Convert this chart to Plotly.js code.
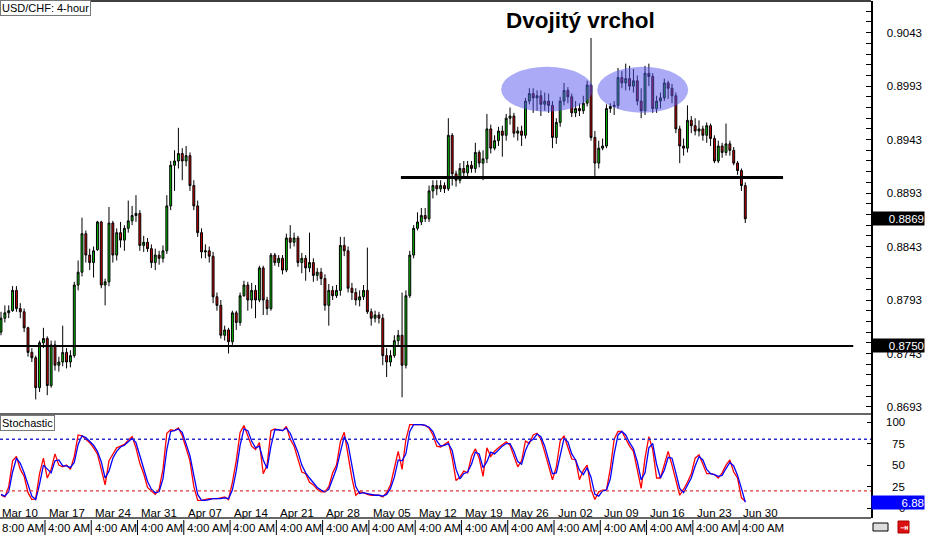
<!DOCTYPE html>
<html><head><meta charset="utf-8">
<script src="https://cdn.plot.ly/plotly-3.0.1.min.js"></script>
<style>html,body{margin:0;padding:0;background:#fff;}#chart{width:925px;height:535px;}</style>
</head><body><div id="chart"></div>
<script>
// USD/CHF 4-hour candles (12 bars per week on the drawing)
const openP = [0.8763,0.8776,0.8781,0.8783,0.8802,0.8785,0.8782,0.8767,0.8744,0.8739,
0.8711,0.8753,0.8757,0.8713,0.8751,0.8732,0.8735,0.8744,0.8735,0.8741,
0.8807,0.8819,0.8855,0.8835,0.8828,0.8840,0.8866,0.8807,0.8810,0.8865,
0.8835,0.8856,0.8849,0.8860,0.8867,0.8872,0.8874,0.8844,0.8847,0.8841,
0.8828,0.8835,0.8832,0.8839,0.8881,0.8919,0.8923,0.8930,0.8923,0.8928,
0.8900,0.8881,0.8856,0.8838,0.8839,0.8834,0.8796,0.8788,0.8760,0.8765,
0.8754,0.8781,0.8772,0.8797,0.8807,0.8793,0.8802,0.8793,0.8823,0.8793,
0.8785,0.8835,0.8828,0.8832,0.8821,0.8851,0.8847,0.8851,0.8828,0.8832,
0.8823,0.8828,0.8816,0.8819,0.8813,0.8788,0.8802,0.8797,0.8802,0.8844,
0.8839,0.8804,0.8800,0.8793,0.8796,0.8802,0.8782,0.8776,0.8779,0.8776,
0.8741,0.8735,0.8741,0.8755,0.8760,0.8732,0.8797,0.8835,0.8860,0.8866,
0.8872,0.8869,0.8895,0.8900,0.8897,0.8900,0.8897,0.8947,0.8911,0.8905,
0.8916,0.8912,0.8919,0.8916,0.8931,0.8921,0.8925,0.8953,0.8935,0.8942,
0.8951,0.8947,0.8963,0.8965,0.8949,0.8951,0.8947,0.8979,0.8986,0.8982,
0.8984,0.8976,0.8979,0.8975,0.8945,0.8959,0.8979,0.8989,0.8983,0.8968,
0.8972,0.8970,0.8977,0.8994,0.8945,0.8921,0.8935,0.8937,0.8972,0.8974,
0.8975,0.9001,0.8996,0.9000,0.8993,0.8998,0.8979,0.8970,0.9005,0.9002,
0.8972,0.8979,0.8982,0.8996,0.8991,0.8984,0.8953,0.8937,0.8935,0.8961,
0.8956,0.8951,0.8953,0.8947,0.8956,0.8944,0.8923,0.8937,0.8931,0.8939,
0.8933,0.8921,0.8914,0.8900];
const highP = [0.8782,0.8788,0.8788,0.8806,0.8806,0.8790,0.8785,0.8768,0.8748,0.8741,
0.8755,0.8767,0.8759,0.8755,0.8755,0.8740,0.8769,0.8748,0.8746,0.8810,
0.8830,0.8870,0.8858,0.8841,0.8843,0.8867,0.8867,0.8813,0.8880,0.8867,
0.8860,0.8866,0.8863,0.8886,0.8881,0.8891,0.8877,0.8853,0.8851,0.8845,
0.8841,0.8839,0.8844,0.8891,0.8923,0.8933,0.8954,0.8935,0.8937,0.8931,
0.8905,0.8886,0.8860,0.8845,0.8843,0.8838,0.8800,0.8793,0.8769,0.8767,
0.8783,0.8783,0.8800,0.8811,0.8810,0.8809,0.8807,0.8825,0.8825,0.8796,
0.8837,0.8837,0.8835,0.8835,0.8855,0.8863,0.8856,0.8853,0.8837,0.8835,
0.8856,0.8832,0.8823,0.8823,0.8817,0.8808,0.8806,0.8807,0.8852,0.8852,
0.8843,0.8809,0.8804,0.8802,0.8807,0.8842,0.8785,0.8783,0.8782,0.8780,
0.8748,0.8746,0.8760,0.8765,0.8800,0.8802,0.8839,0.8863,0.8875,0.8879,
0.8879,0.8900,0.8905,0.8905,0.8905,0.8903,0.8963,0.8949,0.8914,0.8921,
0.8923,0.8923,0.8923,0.8940,0.8933,0.8933,0.8967,0.8957,0.8947,0.8955,
0.8956,0.8967,0.8973,0.8968,0.8955,0.8956,0.8982,0.8991,0.8991,0.8989,
0.8989,0.8987,0.8986,0.8979,0.8963,0.8983,0.8996,0.8992,0.8986,0.8979,
0.8977,0.8984,0.8998,0.9038,0.8951,0.8942,0.8944,0.8976,0.8977,0.8979,
0.9010,0.9007,0.9014,0.9012,0.9009,0.9003,0.8991,0.9012,0.9014,0.9005,
0.8984,0.8987,0.9000,0.8998,0.8995,0.8987,0.8956,0.8944,0.8975,0.8965,
0.8963,0.8961,0.8956,0.8959,0.8958,0.8947,0.8942,0.8940,0.8958,0.8942,
0.8936,0.8923,0.8916,0.8903];
const lowP = [0.8760,0.8772,0.8776,0.8782,0.8782,0.8776,0.8763,0.8740,0.8735,0.8700,
0.8707,0.8748,0.8704,0.8711,0.8727,0.8726,0.8731,0.8729,0.8730,0.8739,
0.8802,0.8815,0.8828,0.8821,0.8814,0.8839,0.8804,0.8788,0.8806,0.8828,
0.8830,0.8842,0.8839,0.8856,0.8863,0.8866,0.8839,0.8838,0.8838,0.8823,
0.8821,0.8826,0.8828,0.8836,0.8877,0.8895,0.8916,0.8905,0.8918,0.8895,
0.8877,0.8852,0.8832,0.8832,0.8828,0.8790,0.8783,0.8757,0.8755,0.8743,
0.8751,0.8765,0.8769,0.8796,0.8783,0.8785,0.8776,0.8791,0.8779,0.8779,
0.8783,0.8825,0.8824,0.8817,0.8819,0.8841,0.8843,0.8824,0.8818,0.8811,
0.8819,0.8810,0.8811,0.8807,0.8783,0.8769,0.8793,0.8795,0.8797,0.8834,
0.8800,0.8793,0.8788,0.8787,0.8793,0.8780,0.8769,0.8772,0.8771,0.8732,
0.8721,0.8731,0.8739,0.8751,0.8702,0.8729,0.8795,0.8832,0.8858,0.8863,
0.8866,0.8866,0.8888,0.8891,0.8894,0.8893,0.8895,0.8900,0.8899,0.8902,
0.8907,0.8909,0.8912,0.8912,0.8917,0.8905,0.8921,0.8930,0.8933,0.8937,
0.8927,0.8942,0.8957,0.8945,0.8942,0.8937,0.8944,0.8976,0.8968,0.8970,
0.8965,0.8970,0.8968,0.8935,0.8939,0.8955,0.8975,0.8977,0.8964,0.8964,
0.8965,0.8967,0.8974,0.8942,0.8909,0.8916,0.8933,0.8935,0.8968,0.8966,
0.8972,0.8991,0.8989,0.8989,0.8987,0.8975,0.8963,0.8966,0.8993,0.8968,
0.8968,0.8972,0.8979,0.8981,0.8977,0.8949,0.8921,0.8928,0.8931,0.8949,
0.8947,0.8946,0.8942,0.8940,0.8937,0.8921,0.8921,0.8926,0.8928,0.8928,
0.8919,0.8910,0.8895,0.8865];
const closeP = [0.8776,0.8781,0.8783,0.8802,0.8785,0.8782,0.8767,0.8744,0.8739,0.8711,
0.8753,0.8757,0.8713,0.8751,0.8732,0.8735,0.8744,0.8735,0.8741,0.8807,
0.8819,0.8855,0.8835,0.8828,0.8839,0.8866,0.8807,0.8810,0.8865,0.8835,
0.8856,0.8849,0.8860,0.8867,0.8872,0.8874,0.8844,0.8847,0.8841,0.8828,
0.8835,0.8832,0.8839,0.8881,0.8919,0.8923,0.8930,0.8923,0.8928,0.8900,
0.8881,0.8856,0.8838,0.8839,0.8834,0.8796,0.8788,0.8760,0.8765,0.8754,
0.8781,0.8772,0.8797,0.8807,0.8793,0.8802,0.8793,0.8823,0.8793,0.8785,
0.8835,0.8828,0.8832,0.8821,0.8851,0.8847,0.8851,0.8828,0.8832,0.8823,
0.8828,0.8816,0.8819,0.8813,0.8788,0.8802,0.8797,0.8802,0.8844,0.8839,
0.8804,0.8800,0.8793,0.8796,0.8802,0.8782,0.8776,0.8779,0.8776,0.8741,
0.8735,0.8741,0.8755,0.8760,0.8732,0.8797,0.8835,0.8860,0.8866,0.8872,
0.8869,0.8895,0.8900,0.8897,0.8900,0.8897,0.8947,0.8911,0.8905,0.8916,
0.8912,0.8919,0.8916,0.8931,0.8921,0.8925,0.8953,0.8935,0.8942,0.8951,
0.8947,0.8963,0.8965,0.8949,0.8951,0.8947,0.8979,0.8986,0.8982,0.8984,
0.8976,0.8979,0.8975,0.8945,0.8959,0.8979,0.8989,0.8983,0.8968,0.8972,
0.8970,0.8977,0.8994,0.8945,0.8921,0.8935,0.8937,0.8972,0.8974,0.8975,
0.9001,0.8996,0.9000,0.8993,0.8998,0.8979,0.8970,0.9005,0.9002,0.8972,
0.8979,0.8982,0.8996,0.8991,0.8984,0.8953,0.8937,0.8935,0.8961,0.8956,
0.8951,0.8953,0.8947,0.8956,0.8944,0.8923,0.8937,0.8931,0.8939,0.8933,
0.8921,0.8914,0.8900,0.8869];

// Stochastic oscillator
const stochMain = [15,13,25,55,60,45,37,18,10,11,40,58,35,45,63,50,48,50,45,60,
85,84,80,76,70,63,45,27,55,62,70,72,74,79,83,70,52,40,24,20,
16,22,45,87,91,90,93,84,68,55,25,9,9,10,11,11,11,12,13,10,
30,55,88,96,85,72,68,76,40,50,90,92,91,90,95,80,72,58,42,40,
30,27,22,19,19,25,41,50,77,88,62,35,15,19,18,16,15,15,15,13,
18,27,45,66,45,80,97,97,97,97,96,93,85,72,71,74,77,58,32,36,
43,41,60,69,58,37,70,60,66,70,74,77,73,60,48,55,78,75,85,87,
80,65,48,33,48,78,84,70,57,56,33,44,50,22,10,19,21,21,46,80,
89,89,80,72,66,43,23,58,83,68,35,35,52,66,50,32,15,22,30,40,
58,62,50,40,40,39,35,41,50,56,42,35,12,8];
const stochSignal = [16,14,19,42,58,52,41,27,14,10,28,50,45,41,55,56,49,49,47,53,
74,84,82,78,73,66,54,35,43,58,66,71,73,77,81,76,60,46,31,22,
18,19,34,68,89,90,92,88,75,61,38,16,9,9,10,11,11,11,12,11,
21,43,73,92,90,78,70,72,56,46,72,91,91,90,93,87,76,65,50,41,
35,29,24,21,19,22,33,46,65,83,74,48,25,17,18,17,16,15,15,14,
16,23,36,56,55,63,89,97,97,97,96,94,89,78,72,73,75,67,45,34,
40,42,51,65,63,47,54,65,63,68,72,75,75,66,54,51,67,77,80,86,
83,72,56,40,41,63,81,77,63,56,44,39,47,36,16,14,20,21,34,63,
85,89,85,76,69,54,33,41,70,75,51,35,44,59,58,41,23,18,26,35,
49,60,56,45,40,39,37,38,46,53,49,38,23,6.88];
const stochLevels = [80, 20];
const stochTicks = [0, 25, 50, 75, 100];

// Axis labels
const weekLabels = ["Mar 10","Mar 17","Mar 24","Mar 31","Apr 07","Apr 14","Apr 21","Apr 28",
  "May 05","May 12","May 19","May 26","Jun 02","Jun 09","Jun 16","Jun 23","Jun 30"];
const timeLabels = ["8:00 AM","4:00 AM","4:00 AM","4:00 AM","4:00 AM","4:00 AM","4:00 AM","4:00 AM",
  "4:00 AM","4:00 AM","4:00 AM","4:00 AM","4:00 AM","4:00 AM","4:00 AM","4:00 AM","4:00 AM"];

// Drawn levels
const supportLevel = 0.8750;
const necklineLevel = 0.89075;
const lastPrice = 0.8869;
const lastStoch = 6.88;

const barsPerWeek = 12;
const weekStart = -0.6;
const xIdx = closeP.map((_, i) => i);

const FONT = "Liberation Sans, Arial, sans-serif";
const H = 517, TOP = 1;            // plot-area height / top
const py = p => (TOP + H - p) / H;  // pixel y -> paper y
const px = p => p / 871;            // pixel x -> paper x

const traces = [
  {type:'candlestick', x:xIdx, open:openP, high:highP, low:lowP, close:closeP,
   xaxis:'x', yaxis:'y', whiskerwidth:0, hoverinfo:'skip', showlegend:false,
   increasing:{line:{color:'#000', width:1}, fillcolor:'#00c000'},
   decreasing:{line:{color:'#000', width:1}, fillcolor:'#d00000'}},
  {type:'scatter', mode:'lines', x:xIdx, y:stochMain, xaxis:'x', yaxis:'y2',
   line:{color:'#ff0000', width:1.3}, hoverinfo:'skip', showlegend:false},
  {type:'scatter', mode:'lines', x:xIdx, y:stochSignal, xaxis:'x', yaxis:'y2',
   line:{color:'#0000ff', width:1.3}, hoverinfo:'skip', showlegend:false}
];

const shapes = [];
const annotations = [];

// frame lines
shapes.push({type:'line', xref:'paper', yref:'paper', x0:0, x1:1, y0:py(1), y1:py(1), line:{color:'#000', width:1.5}});
shapes.push({type:'line', xref:'paper', yref:'paper', x0:0, x1:1, y0:py(414), y1:py(414), line:{color:'#333', width:1.5}});
shapes.push({type:'line', xref:'paper', yref:'paper', x0:0, x1:1, y0:py(518), y1:py(518), line:{color:'#333', width:1.5}});

// support & neckline
shapes.push({type:'line', xref:'x', yref:'y', x0:-0.26, x1:221, y0:supportLevel, y1:supportLevel, line:{color:'#000', width:2}});
shapes.push({type:'line', xref:'x', yref:'y', x0:103.7, x1:202.8, y0:necklineLevel, y1:necklineLevel, line:{color:'#000', width:3}});

// double-top ellipses
shapes.push({type:'circle', xref:'x', yref:'y', x0:129.7, x1:153.5, y0:0.8969, y1:0.9011, fillcolor:'#5555ee', opacity:0.5, line:{width:0}, layer:'above'});
shapes.push({type:'circle', xref:'x', yref:'y', x0:154.6, x1:178.2, y0:0.8968, y1:0.9011, fillcolor:'#5555ee', opacity:0.5, line:{width:0}, layer:'above'});

// stochastic levels
shapes.push({type:'line', xref:'paper', yref:'y2', x0:0, x1:1, y0:stochLevels[0], y1:stochLevels[0], line:{color:'#2a2acc', width:1.3, dash:'dot'}});
shapes.push({type:'line', xref:'paper', yref:'y2', x0:0, x1:1, y0:stochLevels[1], y1:stochLevels[1], line:{color:'#e03a3a', width:1.3, dash:'dot'}});

// week labels & time row
weekLabels.forEach((t, k) => {
  const xs = weekStart + barsPerWeek * k;
  annotations.push({xref:'x', yref:'paper', x:xs + 0.45, y:py(512.5), xanchor:'left', yanchor:'middle',
    text:t, showarrow:false, font:{family:FONT, size:11.5, color:'#000'}});
  annotations.push({xref:'x', yref:'paper', x:xs + 0.35, y:py(528), xanchor:'left', yanchor:'middle',
    text:timeLabels[k], showarrow:false, font:{family:FONT, size:11.5, color:'#000'}});
  shapes.push({type:'line', xref:'x', yref:'paper', x0:xs, x1:xs, y0:py(520), y1:py(535), line:{color:'#000', width:1}});
});

// title
annotations.push({xref:'paper', yref:'paper', x:px(580), y:py(21), xanchor:'center', yanchor:'middle',
  text:'<b>Dvojitý vrchol</b>', showarrow:false, font:{family:FONT, size:22.5, color:'#000'}});

// chart label boxes
annotations.push({xref:'paper', yref:'paper', x:0, y:py(0), xanchor:'left', yanchor:'top',
  text:'USD/CHF: 4-hour', showarrow:false, bgcolor:'#fff', bordercolor:'#777', borderwidth:1, borderpad:1,
  font:{family:FONT, size:11, color:'#000'}});
annotations.push({xref:'paper', yref:'paper', x:0, y:py(415), xanchor:'left', yanchor:'top',
  text:'Stochastic', showarrow:false, bgcolor:'#fff', bordercolor:'#777', borderwidth:1, borderpad:1,
  font:{family:FONT, size:11, color:'#000'}});

// stochastic axis labels
stochTicks.forEach(v => {
  annotations.push({xref:'paper', yref:'y2', x:px(907), y:v, xanchor:'right', yanchor:'middle',
    text:String(v), showarrow:false, font:{family:FONT, size:11.5, color:'#000'}});
});

// value boxes on the price scale
[[supportLevel,'y','#000'],[lastPrice,'y','#000'],[lastStoch,'y2','#0000ff']].forEach(([v, ax, bg]) => {
  annotations.push({xref:'paper', yref:ax, x:1, y:v, xanchor:'left', yanchor:'middle',
    text: ax === 'y' ? v.toFixed(4) : v.toFixed(2), showarrow:false, bgcolor:bg, borderpad:0, width:52, height:13,
    align:'right', font:{family:FONT, size:11.5, color:'#fff'}});
});

// bottom-right icons
shapes.push({type:'rect', xref:'paper', yref:'paper', x0:px(873), x1:px(888), y0:py(523), y1:py(531), fillcolor:'#ddd', line:{color:'#000', width:1}});
shapes.push({type:'rect', xref:'paper', yref:'paper', x0:px(898), x1:px(909), y0:py(521), y1:py(533), fillcolor:'#dd1111', line:{color:'#a00', width:1}});
annotations.push({xref:'paper', yref:'paper', x:px(903.5), y:py(527), xanchor:'center', yanchor:'middle',
  text:'⇥', showarrow:false, font:{family:'DejaVu Sans', size:10, color:'#fff'}});

const layout = {
  width:925, height:535, margin:{l:0, r:54, t:TOP, b:17, pad:0},
  paper_bgcolor:'#fff', plot_bgcolor:'#fff', showlegend:false, dragmode:false,
  font:{family:FONT, size:11.5, color:'#000'},
  xaxis:{range:[-0.26, 225.6], anchor:'y2', showticklabels:false, showgrid:false, zeroline:false,
    ticks:'', showline:false, rangeslider:{visible:false}, fixedrange:true},
  yaxis:{domain:[py(414), 1], side:'right', range:[0.86864, 0.90726], anchor:'x',
    tickmode:'linear', tick0:0.8693, dtick:0.005, tickformat:'.4f', ticks:'inside', ticklen:5,
    tickcolor:'#000', ticklabelstandoff:12, showgrid:false, zeroline:false, showline:true, linecolor:'#000', linewidth:1.5,
    minor:{tick0:0.8693, dtick:0.001, ticks:'inside', ticklen:5, tickcolor:'#000'},
    tickfont:{family:FONT, size:11.5, color:'#000'}, fixedrange:true},
  yaxis3:{overlaying:'y', side:'left', anchor:'x', range:[0.86864, 0.90726], tickmode:'linear', tick0:0.8693, dtick:0.001,
    ticks:'inside', ticklen:6, tickcolor:'#000', showticklabels:false, showgrid:false, zeroline:false, showline:false, fixedrange:true},
  yaxis2:{domain:[0, py(414)], side:'right', range:[-11.4, 109.3], anchor:'x',
    tickvals:stochTicks, ticks:'inside', ticklen:4, tickcolor:'#000', showticklabels:false,
    showgrid:false, zeroline:false, showline:true, linecolor:'#000', linewidth:1.5, fixedrange:true},
  shapes: shapes,
  annotations: annotations
};

Plotly.newPlot('chart', traces, layout, {staticPlot:true, displayModeBar:false});
</script></body></html>
